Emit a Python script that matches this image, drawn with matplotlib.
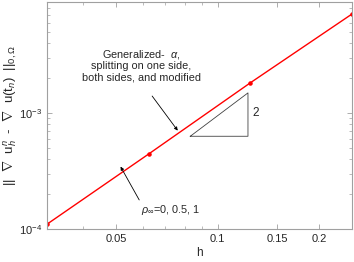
import numpy as np
import matplotlib

matplotlib.use("Agg")
import matplotlib.pyplot as plt
from matplotlib.ticker import FixedLocator, FixedFormatter, NullFormatter

plt.rcParams["font.family"] = ["Liberation Sans", "DejaVu Sans"]
plt.rcParams["mathtext.fontset"] = "custom"
plt.rcParams["mathtext.rm"] = "Liberation Sans"
plt.rcParams["mathtext.it"] = "Liberation Sans:italic"
plt.rcParams["mathtext.sf"] = "Liberation Sans"

# mesh sizes and gradient errors
h = [1 / 32, 1 / 16, 1 / 8, 1 / 4]
err = [1.10e-4, 4.43e-4, 1.82e-3, 7.13e-3]

# slope triangle vertices (h, error)
tri_h = [0.083, 0.123, 0.123, 0.083]
tri_e = [6.3e-4, 6.3e-4, 1.49e-3, 6.3e-4]

xticks = [0.05, 0.1, 0.15, 0.2]
xtick_labels = ["0.05", "0.1", "0.15", "0.2"]
xminor = [0.04, 0.06, 0.07, 0.08, 0.09]

GRAY = "#a0a0a0"
TXT = "#262626"

fig = plt.figure(figsize=(3.54, 2.62), dpi=100)
ax = fig.add_axes([47 / 354, 1 - 229 / 262, 305 / 354, 227 / 262])

ax.plot(h, err, color="red", lw=1.0, marker=".", markersize=4.5)
ax.plot(tri_h, tri_e, color="#404040", lw=0.6)

ax.set_xscale("log")
ax.set_yscale("log")
ax.set_xlim(1 / 32, 0.25)
ax.set_ylim(1e-4, 9.05e-3)

ax.xaxis.set_major_locator(FixedLocator(xticks))
ax.xaxis.set_major_formatter(FixedFormatter(xtick_labels))
ax.xaxis.set_minor_locator(FixedLocator(xminor))
ax.xaxis.set_minor_formatter(NullFormatter())

for s in ax.spines.values():
    s.set_color(GRAY)
    s.set_linewidth(0.8)
ax.tick_params(which="both", direction="in", top=True, right=True,
               color=GRAY, labelcolor=TXT, labelsize=8)
ax.tick_params(which="major", length=3.5, width=0.6)
ax.tick_params(which="minor", length=2, width=0.5)

ax.set_xlabel("h", fontsize=8.5, color=TXT, labelpad=2)
ax.set_ylabel(r"||  $\nabla$  u$_h^n$  -  $\nabla$  u(t$_n$)  ||$_{0,\Omega}$",
              fontsize=9.5, color=TXT, labelpad=0)

ax.text(0.0595, 2.6e-3, "Generalized-  $\\alpha$,\nsplitting on one side,\nboth sides, and modified",
        fontsize=7.8, color=TXT, ha="center", va="center", linespacing=1.1)
ax.annotate("", xy=(0.0762, 7.05e-4), xytext=(0.064, 1.4e-3),
            arrowprops=dict(arrowstyle="-|>", color="black", lw=0.6,
                            mutation_scale=5, shrinkA=0, shrinkB=0))
ax.annotate("", xy=(0.0516, 3.45e-4), xytext=(0.0586, 1.78e-4),
            arrowprops=dict(arrowstyle="-|>", color="black", lw=0.6,
                            mutation_scale=5, shrinkA=0, shrinkB=0))
ax.text(0.0595, 1.45e-4, r"$\rho_\infty$=0, 0.5, 1", fontsize=7.8, color=TXT,
        ha="left", va="center")
ax.text(0.1265, 1.0e-3, "2", fontsize=8.5, color=TXT, ha="left", va="center")

fig.savefig("out.png", dpi=100)
